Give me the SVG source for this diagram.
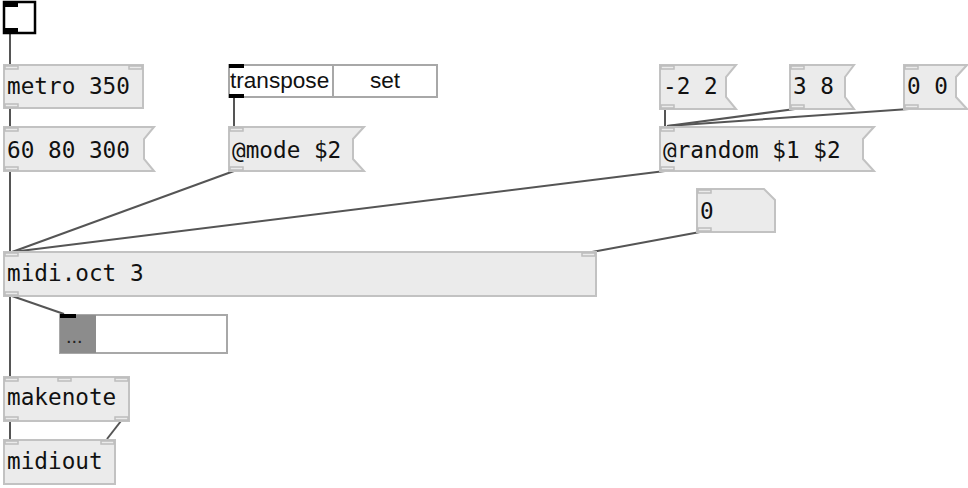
<svg xmlns="http://www.w3.org/2000/svg" width="968" height="488" viewBox="0 0 968 488">
<style>
.box{fill:#ebebeb;stroke:#c2c2c2;stroke-width:2}
.io{fill:#ebebeb;stroke:#bdbdbd;stroke-width:1.5}
.t{font-family:"DejaVu Sans Mono",monospace;font-size:22.7px;fill:#111}
.h{font-family:"Liberation Sans",Arial,sans-serif;font-size:22.6px;fill:#111}
.c{stroke:#555;stroke-width:2;fill:none}
</style>
<rect width="968" height="488" fill="#fff"/>
<g id="connectors">
<line class="c" x1="10" y1="34" x2="10" y2="64"/>
<line class="c" x1="10" y1="109" x2="10" y2="126"/>
<line class="c" x1="10" y1="171" x2="10" y2="252"/>
<line class="c" x1="234" y1="171" x2="12" y2="252"/>
<line class="c" x1="665" y1="171" x2="12" y2="252"/>
<line class="c" x1="700" y1="232" x2="592" y2="252"/>
<line class="c" x1="234" y1="97" x2="234" y2="126"/>
<line class="c" x1="665" y1="109" x2="665" y2="126"/>
<line class="c" x1="795" y1="109" x2="667" y2="126"/>
<line class="c" x1="909" y1="109" x2="667" y2="126"/>
<line class="c" x1="10" y1="296" x2="10" y2="376"/>
<line class="c" x1="12" y1="296" x2="64" y2="314"/>
<line class="c" x1="10" y1="421" x2="10" y2="439"/>
<line class="c" x1="121" y1="421" x2="107" y2="439"/>
</g>
<g id="toggle">
<rect x="4" y="2" width="31" height="31" fill="#fff" stroke="#000" stroke-width="2.5"/>
<rect x="4" y="2" width="14" height="5" fill="#000"/>
<rect x="4" y="28" width="14" height="5" fill="#000"/>
</g>
<g id="metro">
<rect class="box" x="4" y="65" width="139" height="43"/>
<rect class="io" x="5" y="66" width="13" height="3"/>
<rect class="io" x="129" y="66" width="13" height="3"/>
<rect class="io" x="5" y="104" width="13" height="3"/>
<text class="t" x="7" y="94">metro 350</text>
</g>
<g id="msg1">
<polygon class="box" points="4,127 154,127 144,139 144,159 154,171 4,171"/>
<rect class="io" x="5" y="128" width="13" height="3"/>
<rect class="io" x="5" y="167" width="13" height="3"/>
<text class="t" x="7" y="158">60 80 300</text>
</g>
<g id="radio">
<rect x="229" y="65" width="208" height="32" fill="#fff" stroke="#a8a8a8" stroke-width="2"/>
<line x1="333" y1="65" x2="333" y2="97" stroke="#a8a8a8" stroke-width="2"/>
<rect x="229" y="64" width="15" height="4" fill="#000"/>
<rect x="229" y="94" width="15" height="4" fill="#000"/>
<text class="h" x="230" y="88">transpose</text>
<text class="h" x="385" y="88" text-anchor="middle">set</text>
</g>
<g id="msgmode">
<polygon class="box" points="229,127 364,127 353,139 353,159 364,171 229,171"/>
<rect class="io" x="230" y="128" width="13" height="3"/>
<rect class="io" x="230" y="167" width="13" height="3"/>
<text class="t" x="232" y="158">@mode $2</text>
</g>
<g id="msgm22">
<polygon class="box" points="660,65 736,65 726,77 726,97 736,109 660,109"/>
<rect class="io" x="661" y="66" width="13" height="3"/>
<rect class="io" x="661" y="105" width="13" height="3"/>
<text class="t" x="663" y="94">-2 2</text>
</g>
<g id="msg38">
<polygon class="box" points="790,65 854,65 845,77 845,97 854,109 790,109"/>
<rect class="io" x="791" y="66" width="13" height="3"/>
<rect class="io" x="791" y="105" width="13" height="3"/>
<text class="t" x="793" y="94">3 8</text>
</g>
<g id="msg00">
<polygon class="box" points="904,65 967,65 956,77 956,97 967,109 904,109"/>
<rect class="io" x="905" y="66" width="13" height="3"/>
<rect class="io" x="905" y="105" width="13" height="3"/>
<text class="t" x="907" y="94">0 0</text>
</g>
<g id="msgrandom">
<polygon class="box" points="660,127 874,127 863,139 863,159 874,171 660,171"/>
<rect class="io" x="661" y="128" width="13" height="3"/>
<rect class="io" x="661" y="167" width="13" height="3"/>
<text class="t" x="663" y="158">@random $1 $2</text>
</g>
<g id="number">
<polygon class="box" points="697,189 764,189 775,200 775,232 697,232"/>
<rect class="io" x="698" y="190" width="13" height="3"/>
<rect class="io" x="698" y="228" width="13" height="3"/>
<text class="t" x="700" y="219">0</text>
</g>
<g id="midioct">
<rect class="box" x="4" y="252" width="592" height="44"/>
<rect class="io" x="5" y="253" width="13" height="3"/>
<rect class="io" x="582" y="253" width="13" height="3"/>
<rect class="io" x="5" y="292" width="13" height="3"/>
<text class="t" x="7" y="281">midi.oct 3</text>
</g>
<g id="bar">
<rect x="60" y="315" width="167" height="38" fill="#fff" stroke="#a8a8a8" stroke-width="2"/>
<rect x="60" y="315" width="36" height="38" fill="#8c8c8c"/>
<rect x="60" y="314" width="16" height="4" fill="#000"/>
<text x="66" y="343" font-family="Liberation Sans,Arial,sans-serif" font-size="20" fill="#222">...</text>
</g>
<g id="makenote">
<rect class="box" x="4" y="377" width="125" height="44"/>
<rect class="io" x="5" y="378" width="13" height="3"/>
<rect class="io" x="58" y="378" width="13" height="3"/>
<rect class="io" x="115" y="378" width="13" height="3"/>
<rect class="io" x="5" y="417" width="13" height="3"/>
<rect class="io" x="115" y="417" width="13" height="3"/>
<text class="t" x="7" y="405">makenote</text>
</g>
<g id="midiout">
<rect class="box" x="4" y="440" width="111" height="44"/>
<rect class="io" x="5" y="441" width="13" height="3"/>
<rect class="io" x="101" y="441" width="13" height="3"/>
<text class="t" x="7" y="469">midiout</text>
</g>
</svg>
